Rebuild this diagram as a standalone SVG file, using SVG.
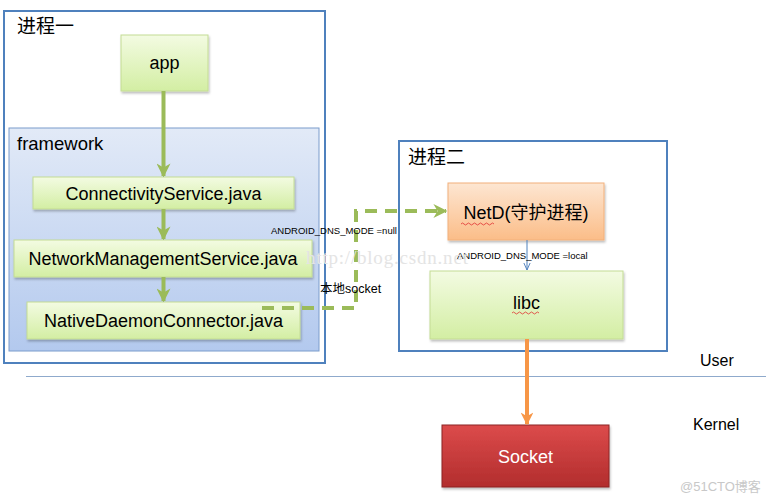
<svg xmlns="http://www.w3.org/2000/svg" width="766" height="500" viewBox="0 0 766 500">
<style>
  text { font-family: "Liberation Sans", "Noto Sans CJK SC", sans-serif; fill: #000; }
  .proc { fill: #fff; stroke: #4f81bd; stroke-width: 2; }
  .green { fill: url(#gGreen); stroke: #c4dc94; stroke-width: 1; filter: url(#sh); }
  .lbl { font-size: 18px; text-anchor: middle; }
  .small { font-size: 9.5px; }
  .garrow { stroke: #9bbb59; stroke-width: 4; fill: none; }
  .dash { stroke: #9bbb59; stroke-width: 4; fill: none; stroke-dasharray: 12 8; }
  .squig { stroke: #e03030; stroke-width: 0.8; fill: none; }
</style>
<defs>
  <linearGradient id="gGreen" x1="0" y1="0" x2="0" y2="1">
    <stop offset="0" stop-color="#f3fbe2"/>
    <stop offset="1" stop-color="#d3eea3"/>
  </linearGradient>
  <linearGradient id="gBlue" x1="0" y1="0" x2="0" y2="1">
    <stop offset="0" stop-color="#e2eaf7"/>
    <stop offset="1" stop-color="#b3c9ee"/>
  </linearGradient>
  <linearGradient id="gOrange" x1="0" y1="0" x2="0" y2="1">
    <stop offset="0" stop-color="#fde6d2"/>
    <stop offset="1" stop-color="#fbbd88"/>
  </linearGradient>
  <linearGradient id="gRed" x1="0" y1="0" x2="0" y2="1">
    <stop offset="0" stop-color="#dc4b4b"/>
    <stop offset="1" stop-color="#b22d2d"/>
  </linearGradient>
  <filter id="sh" x="-10%" y="-10%" width="120%" height="130%">
    <feDropShadow dx="1" dy="2" stdDeviation="1.2" flood-color="#000" flood-opacity="0.25"/>
  </filter>
  <marker id="mGreen" viewBox="0 0 10 10" refX="9" refY="5" markerWidth="3.5" markerHeight="3.5" orient="auto" markerUnits="strokeWidth">
    <path d="M0,0 L10,5 L0,10 L3,5 Z" fill="#9bbb59"/>
  </marker>
  <marker id="mOrange" viewBox="0 0 10 10" refX="9" refY="5" markerWidth="3.2" markerHeight="3.2" orient="auto" markerUnits="strokeWidth">
    <path d="M0,0 L10,5 L0,10 L3,5 Z" fill="#f79646"/>
  </marker>
  <marker id="mBlue" viewBox="0 0 10 10" refX="9" refY="5" markerWidth="8" markerHeight="8" orient="auto" markerUnits="userSpaceOnUse">
    <path d="M0,1 L9,5 L0,9" fill="none" stroke="#4f81bd" stroke-width="1.2"/>
  </marker>
</defs>

<rect width="766" height="500" fill="#fff"/>

<!-- process 1 -->
<g id="process1">
  <rect class="proc" x="4" y="11" width="321" height="352"/>
  <text x="17" y="33" font-size="19">进程一</text>
</g>
<g id="framework">
  <rect x="9" y="128" width="310" height="223" fill="url(#gBlue)" stroke="#7b9ccc" stroke-width="1"/>
  <text x="17" y="150" font-size="18.5">framework</text>
</g>
<g id="app">
  <rect class="green" x="121" y="35" width="87" height="56"/>
  <text class="lbl" x="164.5" y="69">app</text>
</g>
<g id="connectivity">
  <rect class="green" x="33" y="177" width="261" height="32"/>
  <text class="lbl" x="163.5" y="199.5">ConnectivityService.java</text>
</g>
<g id="netmgmt">
  <rect class="green" x="14" y="240" width="298" height="37"/>
  <text class="lbl" x="163" y="265">NetworkManagementService.java</text>
</g>
<g id="nativedaemon">
  <rect class="green" x="27" y="302" width="273" height="37"/>
  <text class="lbl" x="163.5" y="327">NativeDaemonConnector.java</text>
</g>

<!-- process 2 -->
<g id="process2">
  <rect class="proc" x="399" y="141" width="268" height="210"/>
  <text x="408" y="164" font-size="19">进程二</text>
</g>
<g id="netd">
  <rect x="448" y="183" width="156" height="57" fill="url(#gOrange)" stroke="#f2b07a" stroke-width="1" filter="url(#sh)"/>
  <text class="lbl" x="526" y="219" font-size="19.5">NetD(守护进程)</text>
  <path class="squig" d="M461,224 q1.5,-2 3,0 t3,0 t3,0 t3,0 t3,0 t3,0 t3,0 t3,0 t3,0 t3,0 t3,0"/>
</g>
<g id="libc">
  <rect class="green" x="430" y="271" width="193" height="68"/>
  <text class="lbl" x="526.5" y="309">libc</text>
  <path class="squig" d="M512,313 q1.5,-2 3,0 t3,0 t3,0 t3,0 t3,0 t3,0 t3,0 t3,0 t3,0"/>
</g>

<!-- separator -->
<g id="separator">
  <line x1="26" y1="376.5" x2="766" y2="376.5" stroke="#8faacc" stroke-width="1.2"/>
  <text x="700" y="366" font-size="16">User</text>
  <text x="693" y="430" font-size="16">Kernel</text>
</g>

<g id="socket">
  <rect x="442" y="425" width="167" height="62" fill="url(#gRed)" stroke="#8c2424" stroke-width="1" filter="url(#sh)"/>
  <text class="lbl" x="525.5" y="463" style="fill:#fff">Socket</text>
</g>

<!-- connectors -->
<g id="connectors">
  <line class="garrow" x1="163.5" y1="91" x2="163.5" y2="176" marker-end="url(#mGreen)"/>
  <line class="garrow" x1="163.5" y1="209" x2="163.5" y2="239" marker-end="url(#mGreen)"/>
  <line class="garrow" x1="163.5" y1="277" x2="163.5" y2="301" marker-end="url(#mGreen)"/>
  <path class="dash" d="M262,308 H356 V211 H446" marker-end="url(#mGreen)"/>
  <line x1="527" y1="240" x2="527" y2="270" stroke="#4f81bd" stroke-width="1" marker-end="url(#mBlue)"/>
  <line x1="527" y1="339" x2="527" y2="424" stroke="#f79646" stroke-width="4" marker-end="url(#mOrange)"/>
  <text class="small" x="271" y="234">ANDROID_DNS_MODE =null</text>
  <text x="320" y="293" font-size="12.5">本地socket</text>
  <text class="small" x="457" y="259">ANDROID_DNS_MODE =local</text>
</g>

<!-- watermarks -->
<text x="306" y="264" font-size="19" letter-spacing="0.8" style="font-family:'Liberation Serif',serif;fill:#e4e4e4">http://blog.csdn.net</text>
<text x="680" y="491" font-size="13" style="fill:#c8c8c8">@51CTO博客</text>
</svg>
